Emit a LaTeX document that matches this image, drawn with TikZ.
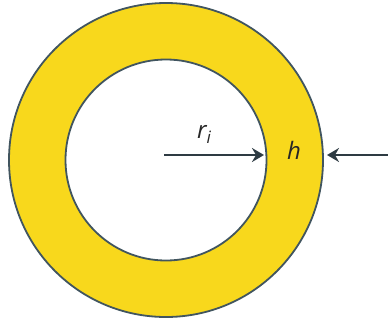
\documentclass[tikz,border=0pt]{standalone}
\usepackage{fontspec}
\setmainfont{Open Sans}
\usepackage{tikz}
\usetikzlibrary{arrows.meta}
\definecolor{ringyellow}{HTML}{F8D81C}
\definecolor{ringedge}{HTML}{41555F}
\definecolor{arrowdark}{HTML}{2E3B43}

\begin{document}
\begin{tikzpicture}[x=1pt, y=-1pt,
    ring/.style={circle, draw=ringedge, line width=1.8pt, inner sep=0pt},
    dimarrow/.style={draw=arrowdark, line width=2.2pt, -{Stealth[length=12pt, width=14pt, inset=4pt]}},
    lbl/.style={text=black!85, font=\fontsize{24}{28}\selectfont\itshape}]
     \useasboundingbox (0,0) rectangle (388,322);

     \node[ring, fill=ringyellow, minimum size=314pt] (outer) at (166,160) {};
     \node[ring, fill=white, minimum size=201pt] (inner) at (166,160) {};

     \coordinate (start) at (164,155);
     \coordinate (innertip) at (264,155);
     \coordinate (rightend) at (388,155);
     \coordinate (outertip) at (327,155);

     \draw[dimarrow] (start) -- (innertip);
     \draw[dimarrow] (rightend) -- (outertip);

     \node[lbl] (radius) at (204,134) {r\raisebox{-5pt}{\fontsize{17}{20}\selectfont i}};
     \node[lbl] (thick) at (294,150) {h};
   \end{tikzpicture}
\end{document}
